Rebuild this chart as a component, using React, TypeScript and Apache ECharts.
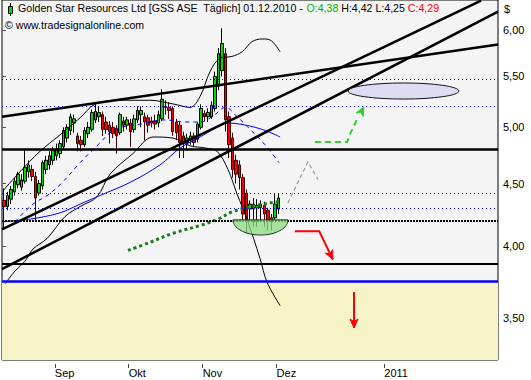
import React, { useEffect, useRef } from "react";
import * as echarts from "echarts";

// ---- data ----
const monthLabels = ["Sep", "Okt", "Nov", "Dez", "2011"];
const monthPos = [15, 36, 57, 78, 108.6]; // bar-slot index of month start
const yTicks = [3.5, 4, 4.5, 5, 5.5, 6];

// open, close, low, high  (11.08.2010 .. 01.12.2010)
const ohlc: number[][] = [
  [4.36, 4.31, 4.13, 4.46], [4.31, 4.4, 4.28, 4.43], [4.37, 4.45, 4.33, 4.48], [4.43, 4.52, 4.4, 4.55],
  [4.49, 4.58, 4.46, 4.6], [4.47, 4.53, 4.44, 4.58], [4.52, 4.64, 4.5, 4.8], [4.6, 4.66, 4.55, 4.7],
  [4.62, 4.56, 4.52, 4.66], [4.56, 4.38, 4.2, 4.6], [4.42, 4.5, 4.4, 4.53], [4.48, 4.68, 4.45, 4.7],
  [4.62, 4.7, 4.58, 4.74], [4.66, 4.74, 4.62, 4.78], [4.7, 4.79, 4.66, 4.82], [4.74, 4.8, 4.7, 4.85],
  [4.76, 4.85, 4.72, 4.88], [4.82, 4.97, 4.8, 5.0], [4.9, 5.0, 4.86, 5.03], [4.97, 5.1, 4.93, 5.13],
  [5.04, 5.08, 4.95, 5.12], [4.92, 4.85, 4.78, 4.95], [4.88, 4.84, 4.78, 4.92], [4.84, 4.97, 4.82, 5.0],
  [4.94, 5.0, 4.9, 5.05], [4.98, 5.14, 4.96, 5.17], [5.07, 5.15, 5.04, 5.22], [5.1, 5.14, 5.05, 5.2],
  [5.12, 4.98, 4.92, 5.15], [5.05, 4.98, 4.94, 5.1], [5.02, 4.96, 4.85, 5.06], [5.0, 4.94, 4.9, 5.05],
  [4.99, 4.92, 4.76, 5.02], [4.95, 5.12, 4.93, 5.14], [5.06, 5.02, 4.96, 5.1], [5.02, 5.07, 4.98, 5.1],
  [5.04, 4.96, 4.82, 5.08], [4.98, 5.08, 4.95, 5.12], [5.07, 5.16, 5.04, 5.2], [5.12, 5.16, 5.0, 5.2],
  [5.1, 5.05, 4.88, 5.14], [5.09, 5.02, 4.95, 5.12], [5.06, 5.04, 5.0, 5.1], [5.06, 5.03, 4.98, 5.12],
  [5.04, 5.12, 5.0, 5.16], [5.08, 5.27, 5.06, 5.37], [5.2, 5.19, 5.12, 5.26], [5.19, 5.16, 5.08, 5.24],
  [5.18, 4.96, 4.92, 5.2], [5.05, 4.95, 4.88, 5.08], [5.02, 4.86, 4.72, 5.05], [4.92, 4.86, 4.72, 4.96],
  [4.86, 4.9, 4.8, 4.94], [4.88, 4.92, 4.84, 4.96], [4.92, 4.86, 4.82, 4.95], [4.89, 5.03, 4.86, 5.05],
  [5.0, 5.18, 4.98, 5.22], [5.13, 5.1, 5.06, 5.16], [5.1, 5.14, 5.05, 5.18], [5.1, 5.21, 5.08, 5.25],
  [5.18, 5.5, 5.15, 5.55], [5.4, 5.74, 5.36, 5.8], [5.56, 5.85, 5.5, 6.02], [5.74, 5.07, 4.96, 5.8],
  [5.1, 4.84, 4.72, 5.15], [4.9, 4.62, 4.55, 4.95], [4.7, 4.58, 4.5, 4.75], [4.66, 4.55, 4.45, 4.7],
  [4.55, 4.25, 4.2, 4.58], [4.42, 4.2, 4.1, 4.45], [4.29, 4.33, 4.2, 4.36], [4.33, 4.29, 4.15, 4.38],
  [4.3, 4.32, 4.15, 4.37], [4.3, 4.33, 4.18, 4.36], [4.32, 4.25, 4.15, 4.35], [4.28, 4.2, 4.12, 4.3],
  [4.22, 4.19, 4.12, 4.25], [4.22, 4.33, 4.2, 4.42], [4.29, 4.38, 4.25, 4.42],
];

// indicator lines: [bar position, price]
const maSlow = [
  [0, 4.19], [8, 4.21], [16.5, 4.26], [22.2, 4.33], [27.8, 4.4], [36.4, 4.51], [44.9, 4.66],
  [50.6, 4.81], [56.3, 4.91], [60.5, 4.99], [64.2, 5.04], [67.6, 5.03], [71.9, 5.0], [75.6, 4.96], [79, 4.91],
];
const maFast = [
  [3.7, 4.19], [8.8, 4.33], [12.8, 4.4], [16.5, 4.49], [22.2, 4.68], [27.3, 4.84], [32.1, 4.98],
  [39.2, 5.03], [46.3, 5.07], [52, 5.05], [56.3, 5.05], [59.7, 5.1], [63.5, 5.19], [66.8, 5.1],
  [70.5, 4.98], [74.7, 4.84], [78.7, 4.68],
];
const bandUpper = [
  [0.3, 4.44], [5.1, 4.6], [10.8, 4.78], [16.5, 4.93], [22.2, 5.09], [26.4, 5.22], [33.5, 5.26],
  [42, 5.26], [49.1, 5.22], [53.4, 5.19], [56.3, 5.3], [59.1, 5.55], [61.9, 5.69], [65.3, 5.71],
  [68.2, 5.76], [71, 5.87], [73.9, 5.9], [76.1, 5.89], [79, 5.76],
];
const bandLower = [
  [0.9, 3.73], [3.7, 3.82], [6.5, 3.89], [8.8, 3.98], [12.8, 4.06], [17.9, 4.23], [22.2, 4.31],
  [27, 4.39], [30.7, 4.58], [37.2, 4.76], [42.9, 4.91], [48.6, 4.9], [53.4, 4.83], [57.7, 4.81],
  [61.1, 4.78], [64.2, 4.62], [66.8, 4.41], [69.6, 4.21], [73.3, 3.91], [75.3, 3.74], [79, 3.58],
];
const maLong = [
  [35.8, 3.97], [42, 4.03], [48.6, 4.1], [56.3, 4.16], [61.4, 4.21], [65.6, 4.27], [71, 4.31], [76.1, 4.34], [79, 4.35],
];

// horizontal levels
const levelSolid = 4.8;
const levelBlack = 3.865;
const levelBlue = 3.75;
const levelDotBlack = 4.2;
const levelsDotBlue = [4.3, 4.42, 5.2, 5.47];
// trend lines: [[x1, p1], [x2, p2]]
const trendLines = [
  [[0, 5.1], [140.9, 5.84]],
  [[0, 4.13], [136.1, 6.34]],
  [[0, 3.834], [140.9, 6.21]],
];

// annotations (bar position, price)
const ovalBox = [98.3, 129.8, 5.433, 5.272];
const bowlBox = [65.6, 81.25, 4.204, 4.086];
const greenArrow = [[88.9, 4.864], [98, 4.864], [99.4, 4.976], [101.1, 5.089], [102.8, 5.196]];
const grayPath = [[81.2, 4.339], [86.9, 4.686], [89.8, 4.533]];
const redArrow1 = [[83.2, 4.116], [90.1, 4.116], [94.0, 3.903]];
const redArrow2 = [[100, 3.672], [100, 3.433]];

const Y_MIN = 3.2331;
const Y_MAX = 6.347;
const X_MAX = 140.9;
const FONT = '"Liberation Sans", Arial, sans-serif';

export default function App() {
  const ref = useRef<HTMLDivElement>(null);
  useEffect(() => {
    const chart = echarts.init(ref.current!, null, { renderer: "svg" });

    const arrowHead = (p: number[], q: number[], color: string, L = 9, W = 8) => {
      const dx = p[0] - q[0], dy = p[1] - q[1];
      const len = Math.hypot(dx, dy) || 1;
      const ux = dx / len, uy = dy / len;
      const nx = -uy, ny = ux;
      return {
        type: "polygon",
        shape: {
          points: [
            [p[0], p[1]],
            [p[0] - ux * L + nx * W / 2, p[1] - uy * L + ny * W / 2],
            [p[0] - ux * L * 0.7, p[1] - uy * L * 0.7],
            [p[0] - ux * L - nx * W / 2, p[1] - uy * L - ny * W / 2],
          ],
        },
        style: { fill: color, stroke: color, lineWidth: 1 },
      };
    };

    const renderAnno = (params: any, api: any) => {
      const c = (p: number[]) => api.coord(p);
      const children: any[] = [];
      const a = c([ovalBox[0], ovalBox[2]]);
      const b = c([ovalBox[1], ovalBox[3]]);
      children.push({
        type: "ellipse",
        shape: { cx: (a[0] + b[0]) / 2, cy: (a[1] + b[1]) / 2, rx: (b[0] - a[0]) / 2, ry: (b[1] - a[1]) / 2 },
        style: { fill: "#dcdcf5", stroke: "#111", lineWidth: 1 },
      });
      const g1 = c([bowlBox[0], bowlBox[2]]);
      const g2 = c([bowlBox[1], bowlBox[3]]);
      const cx = (g1[0] + g2[0]) / 2, cy = g1[1], rx = (g2[0] - g1[0]) / 2, ry = g2[1] - g1[1];
      const pts: number[][] = [];
      for (let k = 0; k <= 40; k++) {
        const t = (Math.PI * k) / 40;
        pts.push([cx + rx * Math.cos(t), cy + ry * Math.sin(t)]);
      }
      children.push({
        type: "polygon",
        shape: { points: pts },
        style: { fill: "rgba(140,220,130,0.75)", stroke: "#1a3a1a", lineWidth: 1 },
      });
      children.push({
        type: "polyline",
        shape: { points: grayPath.map(c) },
        style: { stroke: "#9a9a9a", lineWidth: 1.2, fill: null, lineDash: [4, 3] },
      });
      const gp = greenArrow.map(c);
      children.push({
        type: "polyline",
        shape: { points: gp.slice(0, gp.length - 1) },
        style: { stroke: "#33cc33", lineWidth: 2, fill: null, lineDash: [6, 4] },
      });
      children.push(arrowHead(gp[gp.length - 1], gp[gp.length - 2], "#33cc33"));
      const r1 = redArrow1.map(c);
      children.push({
        type: "polyline",
        shape: { points: r1 },
        style: { stroke: "#ff0000", lineWidth: 2, fill: null },
      });
      children.push(arrowHead(r1[2], r1[1], "#ff0000"));
      const r2 = redArrow2.map(c);
      children.push({
        type: "polyline",
        shape: { points: r2 },
        style: { stroke: "#ff0000", lineWidth: 2, fill: null },
      });
      children.push(arrowHead(r2[1], r2[0], "#ff0000"));
      return { type: "group", children };
    };

    const lineSeries = (data: number[][], color: string, width: number, type: any, z: number) => ({
      type: "line",
      data,
      symbol: "none",
      smooth: 0.35,
      z,
      silent: true,
      lineStyle: { color, width, type },
    });

    const option: any = {
      animation: false,
      backgroundColor: "#ffffff",
      grid: {
        left: 2, right: 33, top: -1, bottom: 20, show: true,
        backgroundColor: "#f4f4f4", borderColor: "#000", borderWidth: 1,
      },
      xAxis: {
        type: "value", min: 0, max: X_MAX, offset: 4,
        axisLine: { show: false },
        splitLine: { show: false },
        axisTick: { show: true, length: 4, customValues: monthPos, lineStyle: { color: "#444" } },
        axisLabel: {
          customValues: monthPos,
          formatter: (v: number) => {
            const k = monthPos.findIndex((m) => Math.abs(m - v) < 0.01);
            return k >= 0 ? monthLabels[k] : "";
          },
          align: "left", margin: 3, color: "#000", fontSize: 11, fontFamily: FONT,
        },
      },
      yAxis: {
        type: "log", logBase: 10, min: Y_MIN, max: Y_MAX, position: "right", offset: 3,
        axisLine: { show: false },
        splitLine: { show: false },
        axisTick: { show: true, length: 4, customValues: yTicks, lineStyle: { color: "#555" } },
        axisLabel: {
          customValues: yTicks,
          formatter: (v: number) => Number(v).toFixed(2).replace(".", ","),
          margin: 2, color: "#000", fontSize: 11, fontFamily: FONT,
        },
      },
      graphic: [
        { type: "line", shape: { x1: 10.5, y1: 3, x2: 10.5, y2: 16 }, style: { stroke: "#000", lineWidth: 1 }, z: 100 },
        { type: "rect", shape: { x: 8.5, y: 6.5, width: 4, height: 7 }, style: { fill: "#00dd00", stroke: "#000", lineWidth: 1 }, z: 101 },
        {
          type: "text", x: 18, y: 2, z: 100,
          style: {
            text: "{n|Golden Star Resources Ltd [GSS ASE  Täglich] 01.12.2010 - }{g|O:4,38}{n| H:4,42 L:4,25 }{r|C:4,29}",
            font: `10.6px ${FONT}`,
            rich: {
              n: { fill: "#000", fontSize: 10.6, fontFamily: FONT },
              g: { fill: "#00b400", fontSize: 10.6, fontFamily: FONT },
              r: { fill: "#ff0000", fontSize: 10.6, fontFamily: FONT },
            },
          },
        },
        { type: "text", x: 5, y: 19, z: 100, style: { text: "© www.tradesignalonline.com", fill: "#000", font: `10.6px ${FONT}` } },
        { type: "text", x: 504, y: 3, z: 100, style: { text: "$", fill: "#000", font: `11px ${FONT}` } },
      ],
      series: [
        {
          type: "line", data: [], z: 1, silent: true,
          markArea: {
            silent: true,
            itemStyle: { color: "#f6f4c6" },
            data: [[{ yAxis: levelBlue }, { yAxis: Y_MIN }]],
          },
        },
        {
          type: "candlestick",
          z: 3,
          silent: true,
          barWidth: 3,
          data: ohlc.map((d, i) => [i + 0.5, d[0], d[1], d[2], d[3]]),
          encode: { x: 0, y: [1, 2, 3, 4] },
          itemStyle: { color: "#00dd00", color0: "#ff0000", borderColor: "#000", borderColor0: "#400000", borderWidth: 1 },
        },
        lineSeries(bandUpper, "#000", 1, "solid", 4),
        lineSeries(bandLower, "#000", 1, "solid", 4),
        lineSeries(maSlow, "#0000ff", 1, "solid", 4),
        lineSeries(maFast, "#0000ff", 1, [4, 4], 4),
        lineSeries(maLong, "#1a7a1a", 3, [3, 3], 4),
        {
          type: "line", data: [], z: 5, silent: true,
          markLine: {
            silent: true, symbol: "none", label: { show: false },
            data: [
              { yAxis: levelSolid, lineStyle: { color: "#000", width: 2.5, type: "solid" } },
              { yAxis: levelBlack, lineStyle: { color: "#000", width: 2, type: "solid" } },
              { yAxis: levelBlue, lineStyle: { color: "#0000ff", width: 2.5, type: "solid" } },
              { yAxis: levelDotBlack, lineStyle: { color: "#000", width: 2, type: [2, 1] } },
              ...levelsDotBlue.map((v) => ({ yAxis: v, lineStyle: { color: "#0000cc", width: 1, type: [1, 3] } })),
              ...trendLines.map((t) => [
                { coord: t[0], lineStyle: { color: "#000", width: 2.5, type: "solid" } },
                { coord: t[1] },
              ]),
            ],
          },
        },
        {
          type: "custom", z: 6, silent: true, clip: true,
          data: [[70, 4.5]], encode: { x: 0, y: 1 },
          renderItem: renderAnno,
        },
      ],
    };
    chart.setOption(option);
    return () => chart.dispose();
  }, []);
  return (
    <div
      ref={ref}
      style={{ position: "fixed", left: 0, top: 0, width: 531, height: 380, background: "#fff" }}
    />
  );
}
